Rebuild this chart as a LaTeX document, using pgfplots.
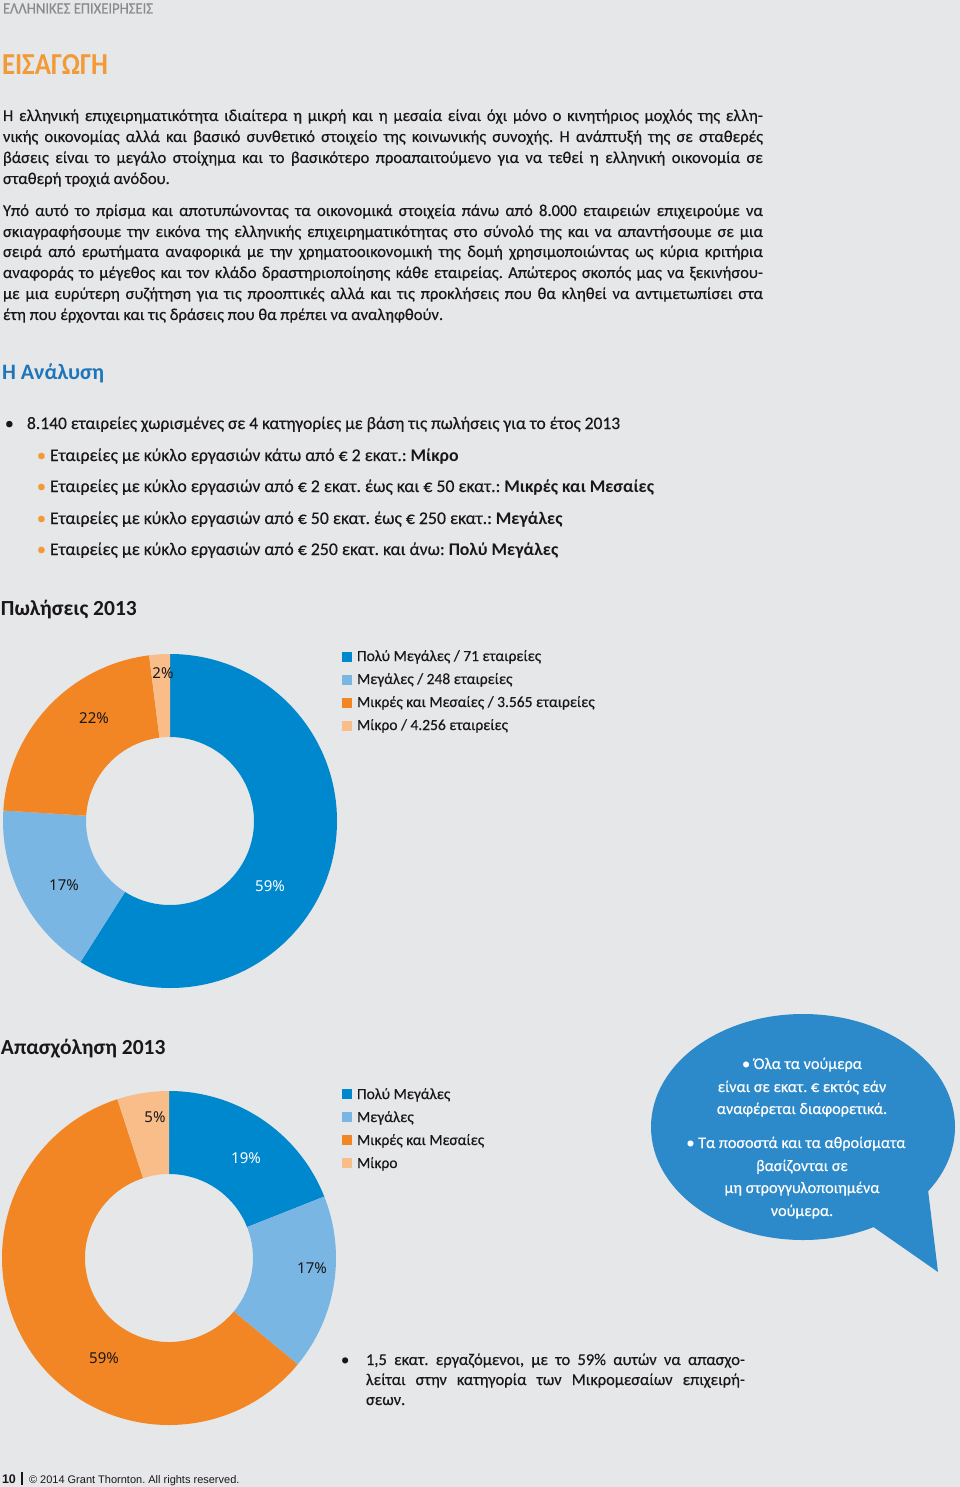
\documentclass[border=0pt]{standalone}
\usepackage{graphicx}
\usepackage{pgfplots}
\pgfplotsset{compat=1.18}
\usepackage{pgfplotstable}
\usepackage{fontspec}
\setmainfont{Carlito}[UprightFeatures={FakeBold=0.3}]
\newfontfamily\lblfont{Noto Sans}
\newfontfamily\arialfont{Liberation Sans}
\frenchspacing

\definecolor{bg}{HTML}{E6E7E9}
\definecolor{cDark}{HTML}{0088CE}
\definecolor{cLight}{HTML}{7AB6E3}
\definecolor{cOrange}{HTML}{F28624}
\definecolor{cPeach}{HTML}{F8BD89}
\definecolor{titleOrange}{HTML}{F29A38}
\definecolor{headBlue}{HTML}{1F75BA}
\definecolor{bubble}{HTML}{2C8ACA}
\definecolor{txt}{HTML}{1A1718}
\definecolor{headGray}{HTML}{8A8B8D}

% Sales 2013 (share, %)
\pgfplotstableread{
category pct
PolyMegales 59
Megales 17
MikresMesaies 22
Mikro 2
}\salesdata
% Employment 2013 (share, %)
\pgfplotstableread{
category pct
PolyMegales 19
Megales 17
MikresMesaies 59
Mikro 5
}\employdata

\newcommand{\getpct}[3]{\pgfplotstablegetelem{#1}{pct}\of#2\let#3\pgfplotsretval}
\newcommand{\slice}[3]{\fill[#3] (axis cs:{167*cos(#1)},{167*sin(#1)}) arc[start angle=#1,end angle=#2,radius=167pt] -- (axis cs:{84*cos(#2)},{84*sin(#2)}) arc[start angle=#2,end angle=#1,radius=84pt] -- cycle;}

\tikzset{
  tx/.style={inner sep=0pt, outer sep=0pt, anchor=base west, text=txt},
  lbl/.style={inner sep=0pt, outer sep=0pt, anchor=center, text=txt, font=\lblfont\fontsize{15}{15}\selectfont},
}
\newcommand{\bodyfont}{\fontsize{16.6}{20}\selectfont}
\newcommand{\subfont}{\fontsize{17.8}{20}\selectfont}
\newcommand{\jl}[2]{\node[tx,font=\bodyfont] at (3,#1) {\hbox to 760pt{#2}};}
\newcommand{\nl}[2]{\node[tx,font=\bodyfont] at (3,#1) {#2};}

\begin{document}%
\begin{tikzpicture}[x=1pt,y=-1pt]
\getpct{0}{\salesdata}{\sA}\getpct{1}{\salesdata}{\sB}\getpct{2}{\salesdata}{\sC}\getpct{3}{\salesdata}{\sD}
\pgfmathsetmacro\sa{90-3.6*\sA}\pgfmathsetmacro\sb{\sa-3.6*\sB}\pgfmathsetmacro\sc{\sb-3.6*\sC}\pgfmathsetmacro\sd{\sc-3.6*\sD}
\getpct{0}{\employdata}{\eA}\getpct{1}{\employdata}{\eB}\getpct{2}{\employdata}{\eC}\getpct{3}{\employdata}{\eD}
\pgfmathsetmacro\ea{90-3.6*\eA}\pgfmathsetmacro\eb{\ea-3.6*\eB}\pgfmathsetmacro\ec{\eb-3.6*\eC}\pgfmathsetmacro\ed{\ec-3.6*\eD}
\fill[bg] (0,0) rectangle (960,1487);
\useasboundingbox (0,0) rectangle (960,1487);

% header
\node[tx,text=headGray] at (3,13.5) {\resizebox{150pt}{10pt}{ΕΛΛΗΝΙΚΕΣ ΕΠΙΧΕΙΡΗΣΕΙΣ}};
\node[tx,text=titleOrange] at (2,75) {\resizebox{106pt}{20pt}{\bfseries ΕΙΣΑΓΩΓΗ}};

% paragraph 1
\jl{121}{Η ελληνική επιχειρηματικότητα ιδιαίτερα η μικρή και η μεσαία είναι όχι μόνο ο κινητήριος μοχλός της ελλη-}
\jl{142}{νικής οικονομίας αλλά και βασικό συνθετικό στοιχείο της κοινωνικής συνοχής. Η ανάπτυξή της σε σταθερές}
\jl{163}{βάσεις είναι το μεγάλο στοίχημα και το βασικότερο προαπαιτούμενο για να τεθεί η ελληνική οικονομία σε}
\nl{184}{σταθερή τροχιά ανόδου.}
% paragraph 2
\jl{216}{Υπό αυτό το πρίσμα και αποτυπώνοντας τα οικονομικά στοιχεία πάνω από 8.000 εταιρειών επιχειρούμε να}
\jl{237}{σκιαγραφήσουμε την εικόνα της ελληνικής επιχειρηματικότητας στο σύνολό της και να απαντήσουμε σε μια}
\jl{257}{σειρά από ερωτήματα αναφορικά με την χρηματοοικονομική της δομή χρησιμοποιώντας ως κύρια κριτήρια}
\jl{278}{αναφοράς το μέγεθος και τον κλάδο δραστηριοποίησης κάθε εταιρείας. Απώτερος σκοπός μας να ξεκινήσου-}
\jl{299}{με μια ευρύτερη συζήτηση για τις προοπτικές αλλά και τις προκλήσεις που θα κληθεί να αντιμετωπίσει στα}
\nl{320}{έτη που έρχονται και τις δράσεις που θα πρέπει να αναληφθούν.}

% Analysis heading
\node[tx,text=headBlue,font=\bfseries\fontsize{22}{24}\selectfont] at (2,379) {Η Ανάλυση};

% bullets
\node[tx,font=\fontsize{17.5}{20}\selectfont] at (5,429) {•};
\node[tx,font=\fontsize{17.5}{20}\selectfont] at (27,429) {8.140 εταιρείες χωρισμένες σε 4 κατηγορίες με βάση τις πωλήσεις για το έτος 2013};
\foreach \yy in {461,492,524,555}{\node[tx,text=titleOrange,font=\subfont] at (37,\yy) {•};}
\node[tx,font=\subfont] at (50,461) {Εταιρείες με κύκλο εργασιών κάτω από € 2 εκατ.: \textbf{Μίκρο}};
\node[tx,font=\subfont] at (50,492) {Εταιρείες με κύκλο εργασιών από € 2 εκατ. έως και € 50 εκατ.: \textbf{Μικρές και Μεσαίες}};
\node[tx,font=\subfont] at (50,524) {Εταιρείες με κύκλο εργασιών από € 50 εκατ. έως € 250 εκατ.: \textbf{Μεγάλες}};
\node[tx,font=\subfont] at (50,555) {Εταιρείες με κύκλο εργασιών από € 250 εκατ. και άνω: \textbf{Πολύ Μεγάλες}};

% chart 1 title
\node[tx,font=\bfseries\fontsize{21.5}{24}\selectfont] at (1,615) {Πωλήσεις 2013};

\begin{axis}[at={(170pt,-821pt)},anchor=center,x=1pt,y=1pt,
  xmin=-170,xmax=170,ymin=-170,ymax=170,hide axis,clip=false]
\slice{90}{\sa}{cDark}
\slice{\sa}{\sb}{cLight}
\slice{\sb}{\sc}{cOrange}
\slice{\sc}{\sd}{cPeach}
\node[lbl] at (axis cs:-7,148) {2\%};
\node[lbl] at (axis cs:-76,103) {22\%};
\node[lbl] at (axis cs:-106,-64) {17\%};
\node[lbl,text=white] at (axis cs:100,-65) {59\%};
\end{axis}

% legend 1
\fill[cDark]   (342,651.5) rectangle (352,661.5);
\fill[cLight]  (342,674.5) rectangle (352,684.5);
\fill[cOrange] (342,697.5) rectangle (352,707.5);
\fill[cPeach]  (342,720.5) rectangle (352,730.5);
\node[tx,font=\fontsize{15.5}{18}\selectfont] at (357,661) {Πολύ Μεγάλες / 71 εταιρείες};
\node[tx,font=\fontsize{15.5}{18}\selectfont] at (357,684) {Μεγάλες / 248 εταιρείες};
\node[tx,font=\fontsize{15.5}{18}\selectfont] at (357,707) {Μικρές και Μεσαίες / 3.565 εταιρείες};
\node[tx,font=\fontsize{15.5}{18}\selectfont] at (357,730) {Μίκρο / 4.256 εταιρείες};

% chart 2 title
\node[tx,font=\bfseries\fontsize{21.5}{24}\selectfont] at (1,1054) {Απασχόληση 2013};

\begin{axis}[at={(169pt,-1258pt)},anchor=center,x=1pt,y=1pt,
  xmin=-170,xmax=170,ymin=-170,ymax=170,hide axis,clip=false]
\slice{90}{\ea}{cDark}
\slice{\ea}{\eb}{cLight}
\slice{\eb}{\ec}{cOrange}
\slice{\ec}{\ed}{cPeach}
\node[lbl] at (axis cs:-14,141) {5\%};
\node[lbl,text=white] at (axis cs:77,100) {19\%};
\node[lbl] at (axis cs:143,-10) {17\%};
\node[lbl] at (axis cs:-65,-100) {59\%};
\end{axis}

% legend 2
\fill[cDark]   (342,1089) rectangle (352,1099);
\fill[cLight]  (342,1112) rectangle (352,1122);
\fill[cOrange] (342,1135) rectangle (352,1145);
\fill[cPeach]  (342,1158) rectangle (352,1168);
\node[tx,font=\fontsize{15.5}{18}\selectfont] at (357,1099) {Πολύ Μεγάλες};
\node[tx,font=\fontsize{15.5}{18}\selectfont] at (357,1122) {Μεγάλες};
\node[tx,font=\fontsize{15.5}{18}\selectfont] at (357,1145) {Μικρές και Μεσαίες};
\node[tx,font=\fontsize{15.5}{18}\selectfont] at (357,1168) {Μίκρο};

% speech bubble
\fill[bubble] (803,1127) ellipse[x radius=152pt, y radius=113pt];
\fill[bubble] (872,1226) -- (938,1272) -- (928,1190) -- cycle;
\begin{scope}[every node/.style={inner sep=0pt, anchor=base, text=white, font=\fontsize{16.2}{20}\selectfont}]
\node at (802,1069) {• Όλα τα νούμερα};
\node at (802,1092) {είναι σε εκατ. € εκτός εάν};
\node at (802,1114) {αναφέρεται διαφορετικά.};
\node at (796,1148) {• Τα ποσοστά και τα αθροίσματα};
\node at (802,1171) {βασίζονται σε};
\node at (802,1193) {μη στρογγυλοποιημένα};
\node at (802,1216) {νούμερα.};
\end{scope}

% bottom bullet
\node[tx,font=\fontsize{16.5}{20}\selectfont] at (341,1365) {•};
\node[tx,font=\fontsize{16.5}{20}\selectfont] at (366,1365) {\hbox to 379pt{1,5 εκατ. εργαζόμενοι, με το 59\% αυτών να απασχο-}};
\node[tx,font=\fontsize{16.5}{20}\selectfont] at (366,1385) {\hbox to 379pt{λείται στην κατηγορία των Μικρομεσαίων επιχειρή-}};
\node[tx,font=\fontsize{16.5}{20}\selectfont] at (366,1405) {σεων.};

% footer
\node[tx,font=\arialfont\bfseries\fontsize{12.5}{14}\selectfont] at (2,1483) {10};
\draw[txt,line width=1.2pt] (22,1472) -- (22,1485);
\node[tx,font=\arialfont\fontsize{11}{12}\selectfont] at (29,1483) {© 2014 Grant Thornton. All rights reserved.};
\end{tikzpicture}%
\end{document}
